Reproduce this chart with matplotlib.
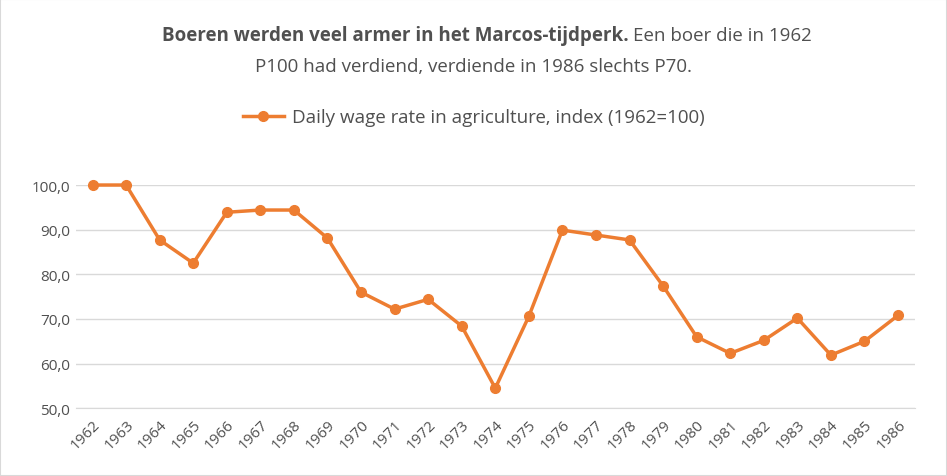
import matplotlib
matplotlib.use('Agg')
import matplotlib.pyplot as plt
from matplotlib.patches import Rectangle

years = [str(y) for y in range(1962, 1987)]
wage_index = [100.0, 100.0, 87.7, 82.5, 93.9, 94.4, 94.4, 88.1, 76.0, 72.2,
              74.4, 68.4, 54.5, 70.6, 89.9, 88.8, 87.7, 77.4, 66.0, 62.3,
              65.2, 70.2, 61.9, 65.0, 70.8]
y_ticks = [50, 60, 70, 80, 90, 100]
orange = '#ED7D31'
grey = '#505050'

plt.rcParams['font.family'] = 'Open Sans'
fig = plt.figure(figsize=(9.47, 4.77), dpi=100)
ax = fig.add_axes([0.08, 0.142, 0.886, 0.468])

x = range(len(years))
ax.plot(x, wage_index, color=orange, lw=2.5, marker='o', ms=7, clip_on=False,
        label='Daily wage rate in agriculture, index (1962=100)')
ax.set_xlim(-0.5, len(years) - 0.5)
ax.set_ylim(50, 100)
ax.set_yticks(y_ticks)
ax.set_yticklabels([('%.1f' % v).replace('.', ',') for v in y_ticks],
                   fontsize=11, color=grey)
ax.set_xticks(list(x))
ax.set_xticklabels(years, rotation=45, ha='right', rotation_mode='anchor',
                   fontsize=11, color=grey)
ax.grid(axis='y', color='#d9d9d9', lw=1)
ax.set_axisbelow(True)
for s in ['top', 'right', 'left']:
    ax.spines[s].set_visible(False)
ax.spines['bottom'].set_color('#d9d9d9')
ax.tick_params(axis='x', length=0, pad=6)
ax.tick_params(axis='y', length=0, pad=4)

# title, bold first part
fig.text(0.664, 0.925, 'Boeren werden veel armer in het Marcos-tijdperk.',
         ha='right', va='center', fontsize=13.5, fontweight='bold', color=grey)
fig.text(0.668, 0.925, 'Een boer die in 1962', ha='left', va='center',
         fontsize=13.5, color=grey)
fig.text(0.5, 0.86, 'P100 had verdiend, verdiende in 1986 slechts P70.',
         ha='center', va='center', fontsize=13.5, color=grey)

fig.legend(loc='center', bbox_to_anchor=(0.5, 0.752), frameon=False,
           fontsize=13.5, labelcolor=grey, handlelength=2.2, handletextpad=0.4)

fig.patches.append(Rectangle((0, 0), 1, 1, transform=fig.transFigure,
                             fill=False, edgecolor='#d9d9d9', lw=1.5))
fig.savefig('out.png', dpi=100)
